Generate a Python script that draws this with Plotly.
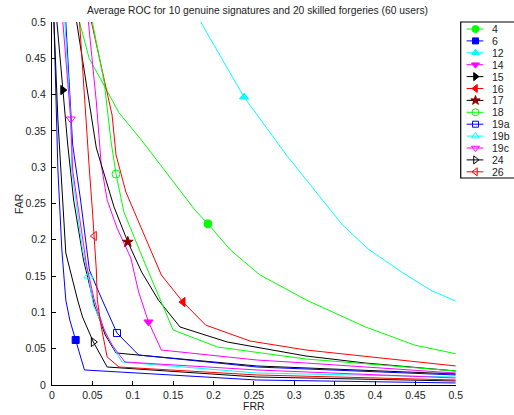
import plotly.graph_objects as go

# ---------------- data ----------------
names = ["4", "6", "12", "14", "15", "16", "17", "18", "19a", "19b", "19c", "24", "26"]

frr_4 = [0.034, 0.046, 0.083, 0.111, 0.177, 0.193, 0.221, 0.257, 0.315, 0.388, 0.449, 0.5]
far_4 = [0.5, 0.450, 0.375, 0.337, 0.241, 0.222, 0.186, 0.152, 0.117, 0.080, 0.055, 0.043]

frr_6 = [0.0024, 0.0049, 0.0073, 0.0122, 0.0171, 0.022, 0.0293, 0.0402, 0.2537, 0.5]
far_6 = [0.5, 0.3926, 0.2961, 0.186, 0.117, 0.0895, 0.062, 0.0207, 0.0069, 0.0028]

frr_12 = [0.1841, 0.2378, 0.2902, 0.3451, 0.3598, 0.3915, 0.4329, 0.4707, 0.5]
far_12 = [0.5, 0.3967, 0.3168, 0.241, 0.2204, 0.1873, 0.1556, 0.1295, 0.1157]

frr_14 = [0.0451, 0.0549, 0.061, 0.0683, 0.0805, 0.0976, 0.1073, 0.1195, 0.1354, 0.2537, 0.3146, 0.5]
far_14 = [0.5, 0.3898, 0.303, 0.2548, 0.2163, 0.1749, 0.1281, 0.0868, 0.0482, 0.0344, 0.0303, 0.0165]

frr_15 = [0.0061, 0.0134, 0.0195, 0.0268, 0.039, 0.0524, 0.0659, 0.0793, 0.2537, 0.5]
far_15 = [0.5, 0.4063, 0.3306, 0.2548, 0.1722, 0.1102, 0.0689, 0.0441, 0.0262, 0.0152]

frr_16 = [0.0488, 0.0744, 0.0793, 0.0915, 0.1195, 0.1354, 0.1622, 0.1902, 0.2451, 0.3146, 0.5]
far_16 = [0.5, 0.3719, 0.3168, 0.2658, 0.1928, 0.1515, 0.1143, 0.0826, 0.0606, 0.0482, 0.0262]

frr_17 = [0.0305, 0.0549, 0.0768, 0.0939, 0.111, 0.1317, 0.1585, 0.2171, 0.3146, 0.3878, 0.5]
far_17 = [0.5, 0.3264, 0.2452, 0.1970, 0.1556, 0.1171, 0.0799, 0.0592, 0.0399, 0.0303, 0.0193]

frr_18 = [0.05, 0.0646, 0.0732, 0.0793, 0.089, 0.1159, 0.15, 0.2049, 0.3146, 0.5]
far_18 = [0.5, 0.4174, 0.3347, 0.2906, 0.2383, 0.1653, 0.0758, 0.0523, 0.0358, 0.0193]

frr_19a = [0.0171, 0.0256, 0.0354, 0.0463, 0.0622, 0.0805, 0.1073, 0.2537, 0.5]
far_19a = [0.5, 0.3306, 0.2548, 0.1584, 0.117, 0.0716, 0.0413, 0.0248, 0.0138]

frr_19b = [0.0159, 0.0232, 0.0244, 0.0329, 0.0378, 0.0451, 0.0512, 0.0707, 0.0866, 0.2537, 0.5]
far_19b = [0.5, 0.3650, 0.2961, 0.2273, 0.186, 0.1501, 0.1102, 0.062, 0.0317, 0.0165, 0.011]

frr_19c = [0.0134, 0.0232, 0.0256, 0.0341, 0.0427, 0.0524, 0.0646, 0.0744, 0.0902, 0.2537, 0.5]
far_19c = [0.5, 0.3664, 0.2961, 0.2273, 0.1653, 0.1171, 0.0758, 0.0551, 0.0317, 0.0207, 0.0096]

frr_24 = [0.0024, 0.0073, 0.011, 0.0171, 0.0317, 0.0378, 0.0512, 0.0683, 0.2537, 0.5]
far_24 = [0.5, 0.365, 0.2961, 0.1818, 0.1171, 0.0937, 0.0592, 0.0248, 0.011, 0.0055]

frr_26 = [0.0341, 0.0402, 0.0439, 0.0463, 0.05, 0.0524, 0.0549, 0.0561, 0.061, 0.0683, 0.0829, 0.2537, 0.5]
far_26 = [0.5, 0.3926, 0.3375, 0.2961, 0.241, 0.2052, 0.1584, 0.1171, 0.0799, 0.0386, 0.0248, 0.0138, 0.0069]

frr_all = [frr_4, frr_6, frr_12, frr_14, frr_15, frr_16, frr_17, frr_18, frr_19a, frr_19b, frr_19c, frr_24, frr_26]
far_all = [far_4, far_6, far_12, far_14, far_15, far_16, far_17, far_18, far_19a, far_19b, far_19c, far_24, far_26]
marker_index = [5, 6, 1, 7, 1, 6, 3, 3, 5, 5, 1, 6, 5]

tick_vals = [0, 0.05, 0.1, 0.15, 0.2, 0.25, 0.3, 0.35, 0.4, 0.45, 0.5]
tick_text = ["0", "0.05", "0.1", "0.15", "0.2", "0.25", "0.3", "0.35", "0.4", "0.45", "0.5"]

# ---------------- styles ----------------
line_colors = ["#00ff00", "#0000ff", "#00ffff", "#ff00ff", "#000000", "#ff0000", "#000000",
               "#00ff00", "#0000ff", "#00ffff", "#ff00ff", "#000000", "#ff0000"]
marker_colors = ["#00ff00", "#0000ff", "#00ffff", "#ff00ff", "#000000", "#ff0000", "#8b0000",
                 "#00ff00", "#0000ff", "#00ffff", "#ff00ff", "#000000", "#ff0000"]
symbols = ["circle", "square", "triangle-up", "triangle-down", "triangle-right", "triangle-left", "star",
           "circle-open", "square-open", "triangle-up-open", "triangle-down-open", "triangle-right-open",
           "triangle-left-open"]
marker_sizes = [8, 7, 8, 8, 8, 8, 8, 8, 7, 8, 8, 8, 8]

FONT = "Liberation Sans, Arial, Helvetica, sans-serif"
W, H = 514, 415
L, R, T, B = 52, 0, 22, 30
plot_left, plot_right, plot_top, plot_bottom = 52, 462, 22, 385
paper_w = W - L - R
paper_h = H - T - B

fig = go.Figure()

for i, n in enumerate(names):
    fig.add_trace(go.Scatter(
        x=frr_all[i], y=far_all[i], mode="lines",
        line=dict(color=line_colors[i], width=1),
        showlegend=False, hoverinfo="skip", xaxis="x", yaxis="y"))
    k = marker_index[i]
    fig.add_trace(go.Scatter(
        x=[frr_all[i][k]], y=[far_all[i][k]], mode="markers",
        marker=dict(symbol=symbols[i], size=marker_sizes[i], color=marker_colors[i],
                    line=dict(color=marker_colors[i], width=1)),
        showlegend=False, hoverinfo="skip", xaxis="x", yaxis="y", cliponaxis=False))

# ---------------- custom legend (drawn in a small helper axis) ----------------
leg_left, leg_top, leg_bottom = 467, 22, 178
leg_w = W - leg_left
leg_h = leg_bottom - leg_top
row_first = 29 - leg_top
row_step = 11.9
for i, n in enumerate(names):
    yy = leg_h - (row_first + row_step * i)
    fig.add_trace(go.Scatter(
        x=[6, 23], y=[yy, yy], mode="lines",
        line=dict(color=line_colors[i], width=1),
        showlegend=False, hoverinfo="skip", xaxis="x2", yaxis="y2"))
    fig.add_trace(go.Scatter(
        x=[15], y=[yy], mode="markers",
        marker=dict(symbol=symbols[i], size=marker_sizes[i] - 1, color=marker_colors[i],
                    line=dict(color=marker_colors[i], width=1)),
        showlegend=False, hoverinfo="skip", xaxis="x2", yaxis="y2", cliponaxis=False))
    fig.add_annotation(x=29.5, y=yy, xref="x2", yref="y2", text=n, showarrow=False,
                       xanchor="left", yanchor="middle",
                       font=dict(family=FONT, size=10.5, color="#222222"))

fig.add_shape(type="rect", xref="paper", yref="paper",
              x0=(leg_left - L) / paper_w, x1=1.3,
              y0=(plot_bottom - leg_bottom) / paper_h, y1=1.0,
              line=dict(color="#000000", width=1.2), fillcolor="rgba(0,0,0,0)")

axis_font = dict(family=FONT, size=10.5, color="#222222")
fig.update_layout(
    width=W, height=H,
    margin=dict(l=L, r=R, t=T, b=B, pad=0),
    paper_bgcolor="white", plot_bgcolor="white",
    title=dict(text="Average ROC for 10 genuine signatures and 20 skilled forgeries (60 users)",
               x=257.5 / W, xanchor="center", xref="container",
               y=1 - 10 / H, yanchor="middle", yref="container",
               font=dict(family=FONT, size=10.3, color="#222222")),
    xaxis=dict(domain=[0, (plot_right - L) / paper_w], range=[0, 0.5],
               tickvals=tick_vals, ticktext=tick_text,
               ticks="inside", ticklen=4, tickcolor="black", tickwidth=1,
               showline=True, linecolor="black", linewidth=1, mirror=False,
               showgrid=False, zeroline=False, tickfont=axis_font,
               anchor="y", fixedrange=True),
    yaxis=dict(domain=[0, 1], range=[0, 0.5],
               tickvals=tick_vals, ticktext=tick_text,
               ticks="inside", ticklen=4, tickcolor="black", tickwidth=1,
               showline=True, linecolor="black", linewidth=1, mirror=False,
               showgrid=False, zeroline=False, tickfont=axis_font,
               ticklabelstandoff=3,
               anchor="x", fixedrange=True),
    xaxis2=dict(domain=[(leg_left - L) / paper_w, 1], range=[0, leg_w], visible=False,
                anchor="y2", fixedrange=True),
    yaxis2=dict(domain=[(plot_bottom - leg_bottom) / paper_h, 1], range=[0, leg_h], visible=False,
                anchor="x2", fixedrange=True),
)

fig.add_annotation(text="FRR", xref="paper", yref="paper",
                   x=((plot_left + plot_right) / 2 - L) / paper_w,
                   y=-(406 - plot_bottom) / paper_h, showarrow=False,
                   xanchor="center", yanchor="middle", font=axis_font)
fig.add_annotation(text="FAR", xref="paper", yref="paper",
                   x=-(L - 18) / paper_w, y=0.5, showarrow=False, textangle=-90,
                   xanchor="center", yanchor="middle", font=axis_font)

# remove the browser's default 8px page margin so the figure sits at the window's corner
fig.write_html("out.html", config={"displayModeBar": False},
               post_script="document.body.style.margin='0';document.body.style.overflow='hidden';")
